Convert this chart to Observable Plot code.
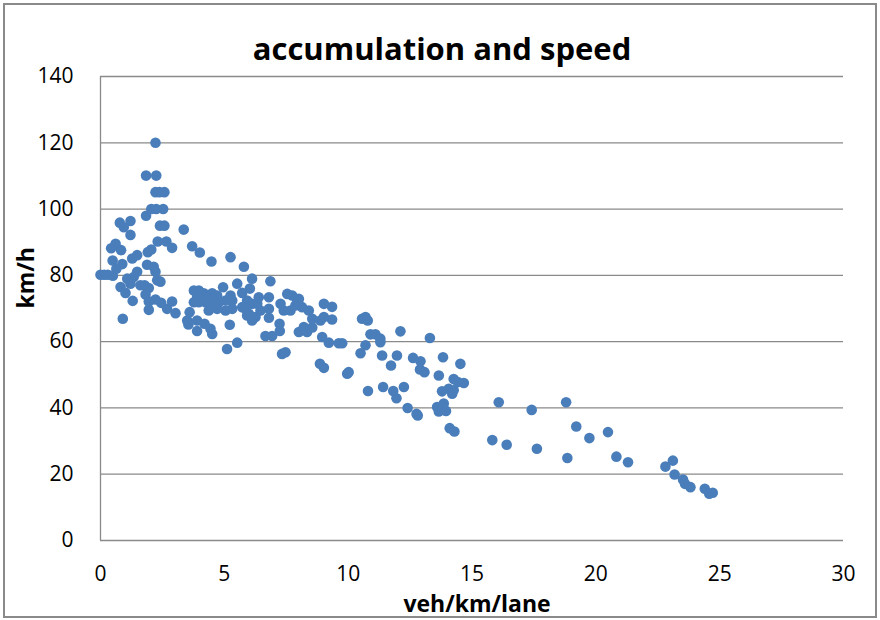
<!DOCTYPE html>
<html>
<head>
<meta charset="utf-8">
<script src="https://cdn.jsdelivr.net/npm/d3@7"></script>
<script src="https://cdn.jsdelivr.net/npm/@observablehq/plot@0.6"></script>
<style>
  html, body { margin: 0; padding: 0; background: #fff; }
  #wrap { position: relative; width: 880px; height: 620px; }
  #border { position: absolute; left: 3px; top: 3px; width: 870px; height: 611px; border: 2px solid #8a8a8a; pointer-events: none; }
</style>
</head>
<body>
<div id="wrap"><div id="border"></div></div>
<script>
const title = "accumulation and speed";
const xLabel = "veh/km/lane";
const yLabel = "km/h";
const xTicks = [0, 5, 10, 15, 20, 25, 30];
const yTicks = [0, 20, 40, 60, 80, 100, 120, 140];

const density = [
  2.22, 1.84, 2.25, 2.22, 2.58, 2.38, 2.05, 2.25, 2.53, 1.84,
  2.4, 2.58, 0.78, 1.21, 0.94, 1.21, 3.36, 2.31, 2.66, 2.89,
  1.91, 2.05, 0.61, 0.43, 0.83, 3.7, 4.01, 1.28, 1.48, 0.49,
  0.88, 0.64, 4.48, 5.25, 5.79, 1.88, 2.15, 2.22, 0, 0.15,
  0.3, 0.5, 1.48, 1.08, 1.34, 2.29, 2.42, 5.52, 6.12, 6.03,
  6.86, 0.81, 1.01, 1.21, 1.61, 1.78, 1.95, 1.3, 1.82, 1.95,
  2.22, 2.45, 2.89, 2.69, 3.03, 1.95, 0.9,
  3.77, 3.97, 4.17, 4.51, 4.71, 4.95, 5.25, 3.77, 3.97, 4.24,
  4.51, 4.78, 5.05, 5.32, 4.37, 4.71, 5.05, 5.32, 3.6, 3.5,
  3.55, 3.9, 4.2, 3.9, 4.44, 4.51, 5.22, 5.11, 5.52, 5.72,
  3.9, 4.3, 4.6,
  5.92, 6.12, 6.39, 6.33, 6.8, 5.99, 6.26, 6.46, 6.8, 6.8,
  5.85, 6.12, 5.72, 6.66, 6.93, 7.24, 7.23, 7.33, 7.47,
  7.27, 7.54, 7.74, 8.01, 7.4, 7.67, 7.87, 8.14, 8.41, 7.94,
  8.55, 8.88, 9.02, 9.35, 9.02, 9.35, 8.01, 8.21, 8.34, 8.55,
  8.95, 9.22, 9.62, 9.76, 10.56, 10.7, 10.79, 10.9, 11.1, 11.3,
  11.3, 10.7, 10.5, 8.86, 9.02, 9.96, 10.02, 10.8, 11.41, 11.37,
  11.73, 11.97, 12.11, 13.3, 12.62, 12.92, 12.9, 13.08, 13.83, 14.53,
  13.66, 14.26, 14.43, 14.67, 13.79, 14.06, 14.26, 14.2, 11.82, 11.95,
  12.25, 12.4, 12.76, 12.81, 13.59, 13.86, 13.66, 13.95, 14.1, 14.29,
  16.08, 17.41, 18.8, 19.21, 15.82, 16.4, 17.62, 18.85, 19.74, 20.49,
  20.83, 21.3, 22.81, 23.11, 23.18, 23.52, 23.6, 23.82, 24.4, 24.58,
  24.72, 5.92
];

const speed = [
  120, 110.1, 110.1, 105.1, 105.1, 105.1, 100, 100, 100, 98,
  95, 95, 95.9, 96.4, 94.5, 92.2, 93.8, 90.2, 90.2, 88.3,
  87, 87.8, 89.5, 88.2, 87.6, 88.8, 86.9, 85.1, 86.1, 84.5,
  83.4, 82, 84.2, 85.5, 82.6, 83.2, 82.6, 81.1, 80.2, 80.2,
  80.2, 79.9, 81.1, 79, 79.5, 78.5, 78.1, 77.5, 79, 76,
  78.2, 76.5, 74.7, 77.5, 77, 77, 76.2, 72.3, 74.2, 72.1,
  72.7, 71.7, 72.1, 69.9, 68.6, 69.6, 66.9,
  75.4, 75.4, 74.6, 74.6, 73.9, 76.4, 73.9, 71.9, 71.9, 71.9,
  72.4, 71.9, 72.4, 72.4, 69.4, 69.9, 69.4, 69.9, 68.9, 66.4,
  65.2, 66.4, 65.4, 63.2, 63.9, 62.3, 65.1, 57.8, 59.7, 74.7,
  73.5, 73.2, 71,
  72.4, 71.4, 73.4, 71.4, 73.4, 68.4, 67.4, 69.4, 69.9, 67.2,
  69.9, 66.4, 70.4, 61.7, 61.7, 63.2, 65.4, 56.3, 56.8,
  71.4, 74.4, 73.9, 72.9, 69.4, 69.4, 70.9, 70.4, 69.4, 72.4,
  66.9, 66.4, 67.4, 66.7, 71.4, 70.5, 62.9, 64.4, 62.9, 64.3,
  61.4, 59.7, 59.5, 59.5, 66.9, 67.4, 66.4, 62.2, 62.2, 60.9,
  59.8, 58.9, 56.5, 53.3, 52.1, 50.3, 50.8, 45.1, 46.3, 55.8,
  52.8, 55.8, 63.1, 61.1, 55.1, 54.1, 51.6, 50.8, 55.3, 53.3,
  49.8, 48.7, 47.8, 47.5, 45, 45.8, 45.3, 44.3, 45.1, 42.9,
  46.3, 40, 38.2, 37.7, 40.3, 41.3, 38.9, 39.1, 33.9, 32.9,
  41.7, 39.4, 41.7, 34.4, 30.3, 28.9, 27.7, 24.9, 30.9, 32.7,
  25.3, 23.6, 22.3, 24.1, 19.9, 18.4, 17.1, 16.1, 15.6, 14.1,
  14.4, 67.9
];

const points = density.map((d, i) => ({density: d, speed: speed[i]}));
const font = "'Open Sans', sans-serif";

const chart = Plot.plot({
  width: 880,
  height: 620,
  marginLeft: 100,
  marginRight: 37,
  marginTop: 76,
  marginBottom: 80,
  style: {fontFamily: font, fontSize: "21px", color: "#000", background: "transparent"},
  x: {domain: [0, 30]},
  y: {domain: [0, 140]},
  marks: [
    Plot.gridY(yTicks.filter(t => t > 0), {stroke: "#8a8a8a", strokeOpacity: 1, strokeWidth: 1.3}),
    Plot.ruleY([0], {stroke: "#8a8a8a", strokeWidth: 1.3}),
    Plot.ruleX([0], {stroke: "#8a8a8a", strokeWidth: 1.3}),
    Plot.axisY(yTicks, {tickSize: 0, tickPadding: 27, label: null, fontSize: 21, fill: "#000"}),
    Plot.axisX(xTicks, {tickSize: 0, tickPadding: 26, label: null, fontSize: 21, fill: "#000"}),
    Plot.dot(points, {x: "density", y: "speed", r: 5.3, fill: "#4a7ebb", stroke: "none"}),
    Plot.text([title], {frameAnchor: "top", lineAnchor: "middle", dx: -30, dy: -26, fontSize: 31, fontWeight: "bold", fill: "#000"}),
    Plot.text([xLabel], {frameAnchor: "bottom", lineAnchor: "middle", dx: 5, dy: 64, fontSize: 23, fontWeight: "bold", fill: "#000"}),
    Plot.text([yLabel], {frameAnchor: "left", lineAnchor: "middle", dx: -74, rotate: -90, fontSize: 23, fontWeight: "bold", fill: "#000"})
  ]
});
document.getElementById("wrap").prepend(chart);
</script>
</body>
</html>
